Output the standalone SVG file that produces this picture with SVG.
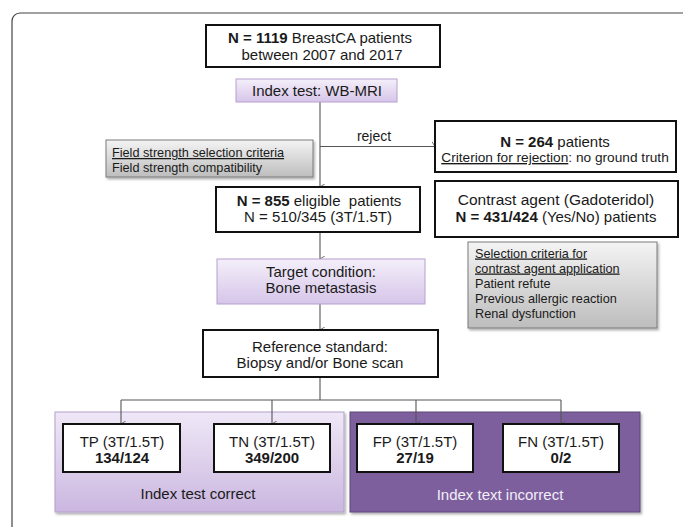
<svg xmlns="http://www.w3.org/2000/svg" width="683" height="527" viewBox="0 0 683 527">
  <defs>
    <linearGradient id="gPurple" x1="0" y1="0" x2="0" y2="1">
      <stop offset="0" stop-color="#f4effa"/>
      <stop offset="1" stop-color="#d6c5e9"/>
    </linearGradient>
    <linearGradient id="gGroup" x1="0" y1="0" x2="0" y2="1">
      <stop offset="0" stop-color="#efe8f7"/>
      <stop offset="1" stop-color="#cbb7e0"/>
    </linearGradient>
    <linearGradient id="gGray" x1="0" y1="0" x2="0" y2="1">
      <stop offset="0" stop-color="#f4f4f4"/>
      <stop offset="1" stop-color="#bdbdbd"/>
    </linearGradient>
    <filter id="shadow" x="-5%" y="-5%" width="115%" height="125%">
      <feDropShadow dx="1.5" dy="2" stdDeviation="1.2" flood-color="#000" flood-opacity="0.3"/>
    </filter>
    <marker id="arr" viewBox="0 0 10 8" refX="5" refY="7.5" markerWidth="7" markerHeight="5.6" orient="auto-start-reverse" markerUnits="userSpaceOnUse">
      <path d="M0.5,0.5 L5,7.5 L9.5,0.5" fill="none" stroke="#555" stroke-width="1.2"/>
    </marker>
  </defs>
  <style>
    text { font-family: "Liberation Sans", Arial, sans-serif; fill: #1a1a1a; }
    .main { fill: #fff; stroke: #111; stroke-width: 2; }
    .purple { fill: url(#gPurple); stroke: #b6a0cd; stroke-width: 1; }
    .gray { fill: url(#gGray); stroke: #7a7a7a; stroke-width: 1; }
    .t15 { font-size: 15px; text-anchor: middle; }
    .t13 { font-size: 12.7px; }
    .b { font-weight: bold; }
    .u { text-decoration: underline; }
    .conn { fill: none; stroke: #555; stroke-width: 1.1; }
  </style>

  <rect x="12" y="13" width="700" height="560" rx="8" fill="#fff" stroke="#444" stroke-width="1.2"/>

  <g id="group-correct">
    <rect x="55" y="412" width="289" height="100" fill="url(#gGroup)" stroke="#b3a0cb" stroke-width="1" filter="url(#shadow)"/>
    <text class="t15" x="198" y="499">Index test correct</text>
  </g>
  <g id="group-incorrect">
    <rect x="350" y="412" width="290" height="100" fill="#7d5f9e" stroke="#5d4878" stroke-width="1" filter="url(#shadow)"/>
    <text class="t15" x="500" y="500" style="fill:#f2eef7">Index text incorrect</text>
  </g>

  <g id="connectors">
    <line class="conn" x1="320" y1="102" x2="320" y2="187" marker-end="url(#arr)"/>
    <line class="conn" x1="320" y1="146.5" x2="435" y2="146.5" marker-end="url(#arr)"/>
    <text x="374" y="141" style="font-size:14px;text-anchor:middle">reject</text>
    <line class="conn" x1="320" y1="232" x2="320" y2="259" marker-end="url(#arr)"/>
    <line class="conn" x1="320" y1="304" x2="320" y2="330" marker-end="url(#arr)"/>
    <path class="conn" d="M320,377 V400 M121,400 H561"/>
    <line class="conn" x1="121" y1="400" x2="121" y2="424" marker-end="url(#arr)"/>
    <line class="conn" x1="272" y1="400" x2="272" y2="424" marker-end="url(#arr)"/>
    <line class="conn" x1="416" y1="400" x2="416" y2="424" marker-end="url(#arr)"/>
    <line class="conn" x1="561" y1="400" x2="561" y2="424" marker-end="url(#arr)"/>
  </g>

  <g id="n1119">
    <rect class="main" x="206" y="25" width="234" height="42"/>
    <text class="t15" x="320" y="43"><tspan class="b">N = 1119</tspan> BreastCA patients</text>
    <text class="t15" x="322" y="59.5">between 2007 and 2017</text>
  </g>

  <g id="index-test">
    <rect class="purple" x="236" y="79" width="161" height="23"/>
    <text class="t15" x="317" y="96">Index test: WB-MRI</text>
  </g>

  <g id="field-strength">
    <rect class="gray" x="106" y="140" width="207" height="37" filter="url(#shadow)"/>
    <text class="t13 u" x="112" y="157">Field strength selection criteria</text>
    <text class="t13" x="112" y="171.5">Field strength compatibility</text>
  </g>

  <g id="rejected">
    <rect class="main" x="435" y="121" width="241" height="51"/>
    <text class="t15" x="555" y="146.5"><tspan class="b">N = 264</tspan> patients</text>
    <text x="555" y="162" style="font-size:13.7px;text-anchor:middle"><tspan class="u">Criterion for rejection</tspan>: no ground truth</text>
  </g>

  <g id="eligible">
    <rect class="main" x="216" y="187" width="204" height="45"/>
    <text class="t15" x="319" y="206" xml:space="preserve"><tspan class="b">N = 855</tspan> eligible  patients</text>
    <text class="t15" x="318" y="221.5">N = 510/345 (3T/1.5T)</text>
  </g>

  <g id="contrast">
    <rect class="main" x="435" y="181" width="243" height="56"/>
    <text class="t15" x="556" y="205" style="font-size:15.5px">Contrast agent (Gadoteridol)</text>
    <text class="t15" x="556" y="222"><tspan class="b">N = 431/424</tspan> (Yes/No) patients</text>
  </g>

  <g id="selection-criteria">
    <rect class="gray" x="468" y="242" width="189" height="86" filter="url(#shadow)"/>
    <text class="t13 u" x="475" y="257.5">Selection criteria for </text>
    <text class="t13 u" x="475" y="272.5">contrast agent application</text>
    <text class="t13" x="475" y="287.5">Patient refute</text>
    <text class="t13" x="475" y="302.5">Previous allergic reaction</text>
    <text class="t13" x="475" y="317.5">Renal dysfunction</text>
  </g>

  <g id="target">
    <rect class="purple" x="217" y="259" width="208" height="45"/>
    <text class="t15" x="321" y="277">Target condition:</text>
    <text class="t15" x="321" y="293">Bone metastasis</text>
  </g>

  <g id="reference">
    <rect class="main" x="203" y="330" width="235" height="47"/>
    <text class="t15" x="320" y="352">Reference standard:</text>
    <text class="t15" x="320" y="368">Biopsy and/or Bone scan</text>
  </g>

  <g id="tp">
    <rect class="main" x="63" y="424" width="117" height="48"/>
    <text class="t15" x="122" y="447">TP (3T/1.5T)</text>
    <text class="t15 b" x="122" y="463">134/124</text>
  </g>
  <g id="tn">
    <rect class="main" x="214" y="424" width="116" height="48"/>
    <text class="t15" x="272" y="447">TN (3T/1.5T)</text>
    <text class="t15 b" x="272" y="463">349/200</text>
  </g>
  <g id="fp">
    <rect class="main" x="357" y="424" width="116" height="48"/>
    <text class="t15" x="415" y="447">FP (3T/1.5T)</text>
    <text class="t15 b" x="415" y="463">27/19</text>
  </g>
  <g id="fn">
    <rect class="main" x="503" y="424" width="116" height="48"/>
    <text class="t15" x="561" y="447">FN (3T/1.5T)</text>
    <text class="t15 b" x="561" y="463">0/2</text>
  </g>
</svg>
